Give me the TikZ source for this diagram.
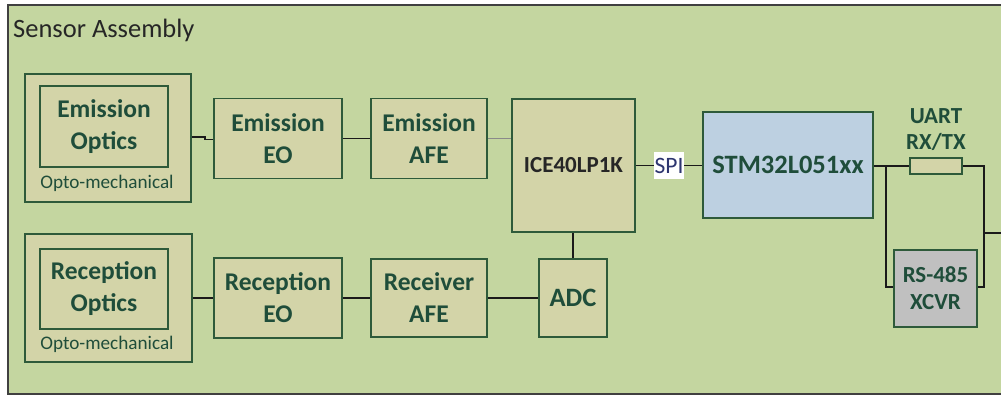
\documentclass[tikz,border=0pt]{standalone}
\usepackage{fontspec}
\setmainfont{Carlito}
\definecolor{bgc}{HTML}{C4D6A0}
\definecolor{boxc}{HTML}{D3D4A8}
\definecolor{bordc}{HTML}{2E5A3A}
\definecolor{txtc}{HTML}{1F4D3A}
\definecolor{wirec}{HTML}{1A1A1A}
\definecolor{framec}{HTML}{404040}
\definecolor{stmc}{HTML}{BDD0E1}
\definecolor{rsc}{HTML}{C0C0C0}
\definecolor{spic}{HTML}{2E3670}
\definecolor{grayw}{HTML}{8A8A8A}
\tikzset{
  blk/.style={draw=bordc, fill=boxc, line width=1.6pt, inner sep=0pt, align=center,
    text=txtc, font=\bfseries\fontsize{25.5}{32}\selectfont},
  wire/.style={line width=1.5pt, draw=wirec},
  smalltxt/.style={inner sep=0pt, text=txtc, font=\fontsize{19.2}{22}\selectfont},
}
\begin{document}
\begin{tikzpicture}[x=1pt,y=-1pt]
\useasboundingbox (0,0) rectangle (1001,396);
\clip (0,0) rectangle (1001,396);
\draw[line width=1.5pt, draw=framec, fill=bgc] (8,5) rectangle (1030,394);
\node[anchor=base west, inner sep=0pt, text=black!85, font=\fontsize{26.5}{30}\selectfont] (title) at (13,37.5) {Sensor Assembly};

% emission chain
\node[blk, minimum width=166, minimum height=128] (eoout) at (108,138) {};
\node[blk, minimum width=128, minimum height=81] (eoin) at (104,126.5) {Emission\\Optics};
\node[smalltxt] (eopto) at (107,183) {Opto-mechanical};
\node[blk, minimum width=128, minimum height=80] (eeo) at (278,138.5) {Emission\\EO};
\node[blk, minimum width=116, minimum height=80] (eafe) at (429,138.5) {Emission\\AFE};

% FPGA, MCU
\node[blk, minimum width=123, minimum height=133, text=black!85, font=\bfseries\fontsize{23}{28}\selectfont] (ice) at (573.5,165.5) {ICE40LP1K};
\node[blk, minimum width=170, minimum height=106, fill=stmc, font=\bfseries\fontsize{26.5}{30}\selectfont] (stm) at (788,165) {STM32L051xx};
\node[fill=white, inner sep=0pt, minimum width=30, minimum height=27, text=spic, font=\fontsize{23.5}{26}\selectfont] (spi) at (669,165.5) {SPI};

% UART / RS-485
\node[blk, minimum width=52, minimum height=16, line width=1.4pt] (res) at (936,166) {};
\node[inner sep=0pt, align=center, text=txtc, font=\bfseries\fontsize{23}{26}\selectfont] (uart) at (936,130) {UART\\RX/TX};
\node[blk, minimum width=83, minimum height=77, fill=rsc, font=\bfseries\fontsize{23}{27}\selectfont] (rs) at (935.5,288.5) {RS-485\\XCVR};

% reception chain
\node[blk, minimum width=167, minimum height=128] (roout) at (108.5,298) {};
\node[blk, minimum width=128, minimum height=80] (roin) at (104,289) {Reception\\Optics};
\node[smalltxt] (ropto) at (107,344) {Opto-mechanical};
\node[blk, minimum width=128, minimum height=80] (reo) at (278,298) {Reception\\EO};
\node[blk, minimum width=116, minimum height=78] (rafe) at (429,298) {Receiver\\AFE};
\node[blk, minimum width=68, minimum height=78, font=\bfseries\fontsize{26.5}{30}\selectfont] (adc) at (573,298) {ADC};

% coordinates
\coordinate (j1) at (205,137);
\coordinate (j2) at (205,139.5);
\coordinate (bl) at (886,166);
\coordinate (bl2) at (886,287);
\coordinate (br) at (984,166);
\coordinate (br2) at (984,287);
\coordinate (bm) at (984,233);
\coordinate (outr) at (1010,233);

% connectors
\draw[wire] (eoout.east |- j1) -- (j1) -- (j2) -- (eeo.west |- j2);
\draw[wire] (eeo.east) -- (eafe.west);
\draw[line width=1.5pt, draw=grayw] (eafe.east) -- (ice.west |- eafe.east);
\draw[wire] (ice.east |- spi) -- (spi.west);
\draw[wire] (spi.east) -- (stm.west |- spi);
\draw[wire] (stm.east |- res) -- (res.west);
\draw[wire] (bl) -- (bl2) -- (rs.west |- bl2);
\draw[wire] (res.east) -- (br) -- (br2) -- (rs.east |- br2);
\draw[wire] (bm) -- (outr);
\draw[wire] (ice.south -| adc.north) -- (adc.north);
\draw[wire] (roout.east |- reo.west) -- (reo.west);
\draw[wire] (reo.east) -- (rafe.west);
\draw[wire] (rafe.east) -- (adc.west);
\end{tikzpicture}
\end{document}
